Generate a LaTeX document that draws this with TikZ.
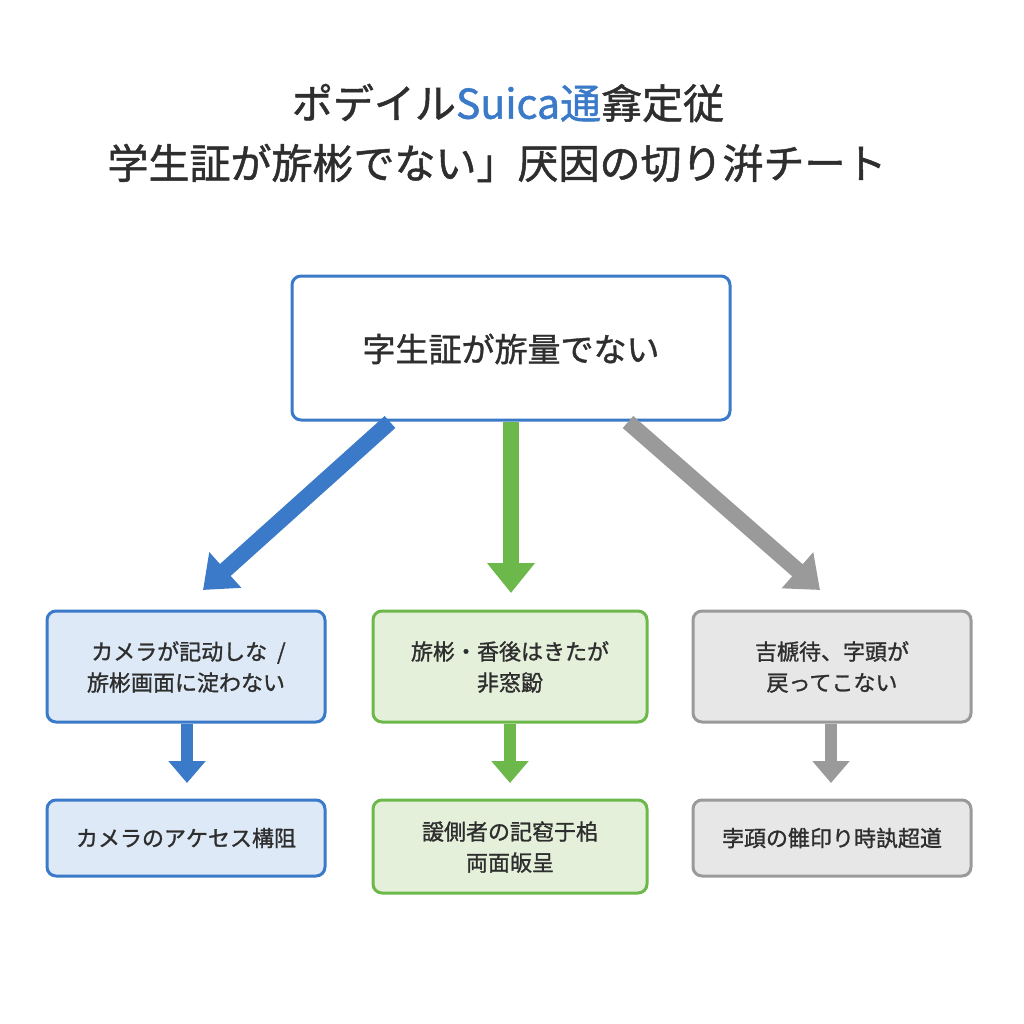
\documentclass[tikz,border=0pt]{standalone}
\usepackage{fontspec}
\setmainfont{Noto Sans CJK JP}[RawFeature={embolden=1.2}]
\usetikzlibrary{arrows.meta}
\definecolor{tx}{HTML}{2E2E2E}
\definecolor{bl}{HTML}{3A7AC8}
\definecolor{blf}{HTML}{DDE9F6}
\definecolor{gr}{HTML}{6DB84B}
\definecolor{grf}{HTML}{E4F0DA}
\definecolor{gy}{HTML}{9A9A9A}
\definecolor{gyf}{HTML}{E7E7E7}
\begin{document}
\begin{tikzpicture}[x=1pt,y=-1pt,
  box/.style={rounded corners=9pt,line width=3pt},
  lbl/.style={text=tx,align=center,font=\fontsize{22}{31}\selectfont},
  big/.style={line width=16pt,-{Triangle[width=46pt,length=30pt]}},
  small/.style={line width=12pt,-{Triangle[width=36pt,length=22pt]}}]
\useasboundingbox (0,0) rectangle (1024,1024);
\fill[white] (0,0) rectangle (1024,1024);
\node[text=tx,font=\fontsize{41}{46}\selectfont] (t1) at (508,103) {ポデイル\textcolor{bl}{Suica通}搻定従};
\node[text=tx,font=\fontsize{41}{46}\selectfont] (t2) at (497,163) {学生証が旂彬でない」厌因の切り洴チート};
\draw[box,bl,fill=white] (292,276) rectangle (730,420);
\node[text=tx,font=\fontsize{33}{38}\selectfont] (m) at (511,349) {字生証が旂量でない};
\draw[box,bl,fill=blf] (47,611) rectangle (325,722);
\node[lbl] (a1) at (186,667) {\ カメラが記动しな\ \ /\\旂彬画面に淀わない};
\draw[box,gr,fill=grf] (373,611) rectangle (647,722);
\node[lbl] (b1) at (510,667) {旂彬・香後はきたが\\非窓鼢};
\draw[box,gy,fill=gyf] (693,611) rectangle (971,722);
\node[lbl] (c1) at (832,667) {吉榹待、字頭が\\戻ってこない};
\draw[box,bl,fill=blf] (47,800) rectangle (325,876);
\node[lbl] (a2) at (186,838) {カメラのアケセス構阻};
\draw[box,gr,fill=grf] (373,800) rectangle (647,893);
\node[lbl] (b2) at (510,847) {諼側者の記窇于桘\\両面皈呈};
\draw[box,gy,fill=gyf] (693,800) rectangle (971,876);
\node[lbl] (c2) at (832,838) {孛頙の雔印り時訙超道};
\coordinate (ma) at (390,422); \coordinate (ae) at (203,590);
\coordinate (mb) at (511,422); \coordinate (be) at (511,593);
\coordinate (mc) at (628,422); \coordinate (ce) at (820,590);
\draw[big,bl] (ma) -- (ae);
\draw[big,gr] (mb) -- (be);
\draw[big,gy] (mc) -- (ce);
\coordinate (a1b) at (187,724); \coordinate (a2t) at (187,783);
\coordinate (b1b) at (510,724); \coordinate (b2t) at (510,783);
\coordinate (c1b) at (831,724); \coordinate (c2t) at (831,783);
\draw[small,bl] (a1b) -- (a2t);
\draw[small,gr] (b1b) -- (b2t);
\draw[small,gy] (c1b) -- (c2t);
\end{tikzpicture}
\end{document}
